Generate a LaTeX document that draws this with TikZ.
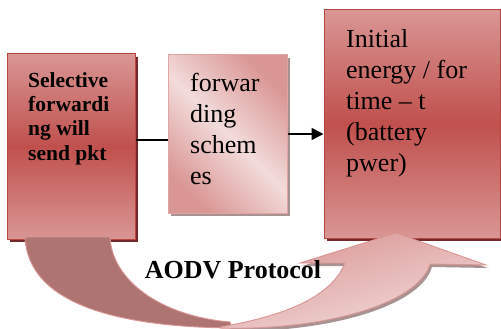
\documentclass[tikz,border=0pt]{standalone}
\usepackage{fontspec}
\setmainfont{Liberation Serif}
\usetikzlibrary{arrows.meta}
\definecolor{pk}{HTML}{D99694}
\definecolor{rd}{HTML}{C0504D}
\definecolor{lt}{HTML}{F2DCDB}
\definecolor{mauve}{HTML}{AD7472}
\definecolor{darkrd}{HTML}{74282A}
\definecolor{shgrey}{HTML}{A89292}
\definecolor{rdborder}{HTML}{B84744}
\begin{document}
\begin{tikzpicture}[x=1pt,y=-1pt,
  redbox/.style={draw=rdborder, line width=1pt, top color=pk, bottom color=pk, middle color=rd, inner sep=0pt},
  lightbox/.style={draw=pk!85!white, line width=1pt, top color=pk, bottom color=pk, middle color=lt, shading angle=135, inner sep=0pt},
  boxtext/.style={anchor=north west, align=left, inner sep=0pt, font=\fontsize{26}{31}\selectfont},
  conn/.style={line width=1.5pt, black}]
\useasboundingbox[fill=white] (0,0) rectangle (501,329);

% shadows
\fill[darkrd] (10,57) rectangle (138,242);
\fill[shgrey] (171,58) rectangle (290,216);
\fill[darkrd] (327,13) rectangle (503,241);

% boxes
\node[redbox, minimum width=128pt, minimum height=185pt] (box1) at (71,146.5) {};
\node[lightbox, minimum width=119pt, minimum height=158pt] (box2) at (227.5,134) {};
\node[redbox, minimum width=176pt, minimum height=228pt] (box3) at (412,124) {};

% back band of curved arrow
\path[fill=mauve, draw=pk, line width=0.9pt]
  (25,237) .. controls (28,305) and (120,327) .. (232,328)
  -- (230,322) .. controls (160,316) and (112,280) .. (110,237) -- cycle;

% front part of curved arrow: shadow then shape
\fill[shgrey, shift={(2pt,-3pt)}]
  (220,327) .. controls (290,315) and (332,295) .. (345,263)
  -- (300,263) -- (396,233) -- (486,265) -- (430,264)
  .. controls (418,305) and (320,331) .. (220,328) -- cycle;
\path[draw=pk, line width=0.9pt, top color=pk, bottom color=lt, shading angle=15]
  (220,327) .. controls (290,315) and (332,295) .. (345,263)
  -- (300,263) -- (396,233) -- (486,265) -- (430,264)
  .. controls (418,305) and (320,331) .. (220,328) -- cycle;

% connectors
\coordinate (c1) at (0,140);
\draw[conn] (box1.east |- c1) -- (box2.west |- c1);
\draw[conn, -{Triangle[length=12pt,width=12pt]}] (box2.east) -- (box2.east -| box3.west);

% texts
\node[boxtext, font=\fontsize{21.5}{24.3}\selectfont\bfseries] (t1) at (28,72) {Selective\\forwardi\\ng will\\send pkt};
\node[boxtext] (t2) at (190,73) {forwar\\ding\\schem\\es};
\node[boxtext] (t3) at (346,29) {Initial\\energy / for\\time \textendash{} t\\(battery\\pwer)};
\node[anchor=base, inner sep=0pt, font=\fontsize{26}{31}\selectfont\bfseries] (lbl) at (233,278) {AODV Protocol};
\end{tikzpicture}
\end{document}
